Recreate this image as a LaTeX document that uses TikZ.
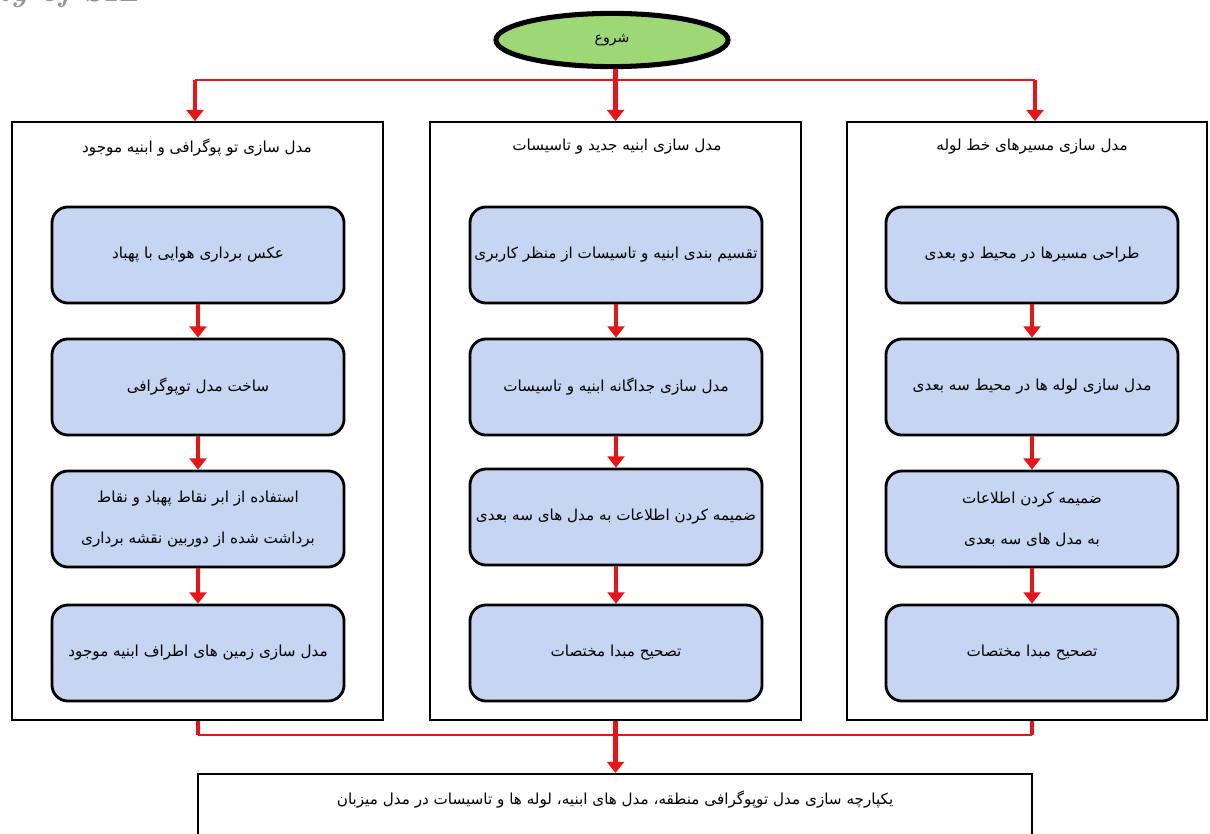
\documentclass[tikz,border=0pt]{standalone}
\usepackage{fontspec}
\usetikzlibrary{arrows.meta,shapes.geometric}
\newfontfamily\arabicfont[Script=Arabic]{DejaVu Sans}
\TeXXeTstate=1
\definecolor{arrred}{RGB}{232,20,24}
\definecolor{boxblue}{RGB}{198,213,242}
\definecolor{startgreen}{RGB}{158,216,118}
\definecolor{wmgray}{RGB}{150,150,150}
\newcommand{\RL}[1]{\beginR #1\endR}
\begin{document}
\begin{tikzpicture}[x=0.025cm,y=-0.025cm,
  frame/.style={draw=black,line width=1.1pt,inner sep=0pt},
  stepbox/.style={draw=black,line width=2pt,rounded corners=0.4cm,fill=boxblue,
    minimum width=7.3cm,minimum height=2.4cm,align=center,inner sep=2pt,
    font=\arabicfont\fontsize{10.8}{29}\selectfont},
  header/.style={font=\arabicfont\fontsize{10.8}{13}\selectfont,inner sep=1pt},
  arr/.style={draw=arrred,line width=3.4pt,-{Triangle[length=8pt,width=12pt]}},
  bus/.style={draw=arrred,line width=1.5pt},
  thickred/.style={draw=arrred,line width=3.4pt}]
\useasboundingbox (0,0) rectangle (1210,834);
\fill[white] (0,0) rectangle (1210,834);

% watermark fragment
\node[anchor=base west,inner sep=0pt,text=wmgray,font=\fontsize{22}{24}\selectfont\bfseries\itshape] (wm) at (-2,2) {ty of SIL};

% start
\node[ellipse,draw=black,line width=3.6pt,fill=startgreen,minimum width=5.8cm,minimum height=1.33cm,
  font=\arabicfont\fontsize{10}{12}\selectfont] (start) at (612,40) {\RL{شروع}};

% columns
\node[frame,minimum width=9.275cm,minimum height=14.95cm] (colL) at (197.5,421) {};
\node[frame,minimum width=9.275cm,minimum height=14.95cm] (colM) at (615.5,421) {};
\node[frame,minimum width=9.0cm,minimum height=14.95cm] (colR) at (1027,421) {};

\node[header] (hL) at (197,148) {\RL{مدل سازی تو پوگرافی و ابنیه موجود}};
\node[header] (hM) at (617,147) {\RL{مدل سازی ابنیه جدید و تاسیسات}};
\node[header] (hR) at (1032,147) {\RL{مدل سازی مسیرهای خط لوله}};

% left column boxes
\node[stepbox] (L1) at (198,255) {\RL{عکس برداری هوایی با پهباد}};
\node[stepbox] (L2) at (198,387) {\RL{ساخت مدل توپوگرافی}};
\node[stepbox] (L3) at (198,519) {\RL{استفاده از ابر نقاط پهباد و نقاط}\\\RL{برداشت شده از دوربین نقشه برداری}};
\node[stepbox] (L4) at (198,653) {\RL{مدل سازی زمین های اطراف ابنیه موجود}};

% middle column boxes
\node[stepbox] (M1) at (616,255) {\RL{تقسیم بندی ابنیه و تاسیسات از منظر کاربری}};
\node[stepbox] (M2) at (616,387) {\RL{مدل سازی جداگانه ابنیه و تاسیسات}};
\node[stepbox] (M3) at (616,517) {\RL{ضمیمه کردن اطلاعات به مدل های سه بعدی}};
\node[stepbox] (M4) at (616,653) {\RL{تصحیح مبدا مختصات}};

% right column boxes
\node[stepbox] (R1) at (1032,255) {\RL{طراحی مسیرها در محیط دو بعدی}};
\node[stepbox] (R2) at (1032,387) {\RL{مدل سازی لوله ها در محیط سه بعدی}};
\node[stepbox] (R3) at (1032,519) {\RL{ضمیمه کردن اطلاعات}\\\RL{به مدل های سه بعدی}};
\node[stepbox] (R4) at (1032,653) {\RL{تصحیح مبدا مختصات}};

% final box
\node[frame,anchor=north,minimum width=20.85cm,minimum height=2.3cm] (final) at (615,773) {};
\node[header] (finaltxt) at (615,800) {\RL{یکپارچه سازی مدل توپوگرافی منطقه، مدل های ابنیه، لوله ها و تاسیسات در مدل میزبان}};

% top connectors
\coordinate (busL) at (195,80);
\coordinate (busR) at (1035,80);
\draw[bus] (busL) -- (busR);
\draw[arr] (start.south -| colM) -- (colM.north);
\draw[arr] (busL) -- (busL |- colL.north);
\draw[arr] (busR) -- (busR |- colR.north);

% inside columns
\foreach \c in {L,M,R}{
  \draw[arr] (\c1) -- (\c2);
  \draw[arr] (\c2) -- (\c3);
  \draw[arr] (\c3) -- (\c4);
}

% bottom connectors
\coordinate (botL) at (198,735);
\coordinate (botR) at (1032,735);
\draw[bus] (botL) -- (botR);
\draw[thickred] (botL |- colL.south) -- (botL);
\draw[thickred] (botR |- colR.south) -- (botR);
\draw[arr] (colM.south) -- (colM.south |- final.north);
\end{tikzpicture}
\end{document}
